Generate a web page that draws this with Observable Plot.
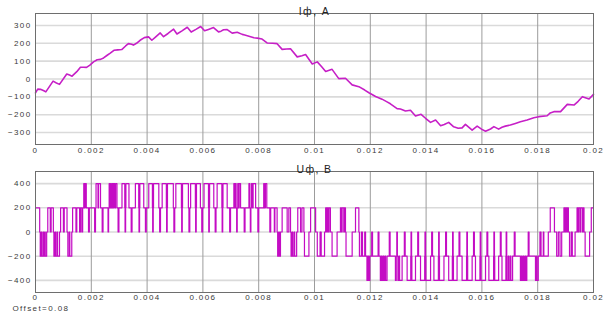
<!DOCTYPE html>
<html>
<head>
<meta charset="utf-8">
<script src="https://cdn.jsdelivr.net/npm/d3@7"></script>
<script src="https://cdn.jsdelivr.net/npm/@observablehq/plot@0.6"></script>
<style>
  html, body { margin: 0; padding: 0; background: #fff; }
  #scope { width: 616px; height: 333px; position: relative; }
  #scope svg { display: block; }
</style>
</head>
<body>
<div id="scope"></div>
<script>
// Time axis (s) and value axis ticks
const xTicks = [0, 0.002, 0.004, 0.006, 0.008, 0.01, 0.012, 0.014, 0.016, 0.018, 0.02];
const iTicks = [-300, -200, -100, 0, 100, 200, 300];
const uTicks = [-400, -200, 0, 200, 400];

// Phase current: [time, ms ; current, A]
const iPoints = [
  [0.00, -78], [0.08, -57], [0.18, -58], [0.30, -66], [0.37, -72], [0.63, -12],
  [0.75, -22], [0.86, -30], [1.12, 28], [1.22, 22], [1.31, 16], [1.48, 41],
  [1.61, 66], [1.72, 66], [1.83, 65], [1.95, 78], [2.08, 96], [2.21, 108],
  [2.33, 110], [2.44, 118], [2.57, 133], [2.68, 145], [2.81, 161], [2.95, 163],
  [3.09, 165], [3.23, 185], [3.33, 198], [3.45, 195], [3.51, 190], [3.62, 200],
  [3.75, 217], [3.90, 232], [4.05, 236], [4.17, 217], [4.30, 235], [4.47, 258],
  [4.59, 237], [4.75, 255], [4.95, 279], [5.07, 252], [5.25, 270], [5.44, 290],
  [5.58, 263], [5.75, 278], [5.92, 294], [6.06, 270], [6.20, 278], [6.38, 288],
  [6.56, 264], [6.65, 268], [6.74, 276], [6.87, 277], [7.05, 257], [7.23, 262],
  [7.41, 250], [7.50, 247], [7.65, 240], [7.83, 231], [7.95, 229], [8.12, 224],
  [8.30, 202], [8.50, 200], [8.66, 198], [8.84, 166], [9.00, 168], [9.14, 169],
  [9.38, 124], [9.55, 130], [9.68, 137], [9.92, 84], [10.10, 96], [10.25, 70],
  [10.40, 42], [10.63, 54], [10.87, 2], [11.11, 4], [11.35, -33], [11.59, -43],
  [11.80, -62], [11.95, -77], [12.19, -98], [12.42, -113], [12.60, -128], [12.72, -139],
  [12.96, -166], [13.08, -168], [13.26, -179], [13.44, -175], [13.62, -207], [13.82, -198],
  [13.98, -220], [14.16, -243], [14.34, -230], [14.52, -262], [14.65, -255], [14.81, -243],
  [14.99, -268], [15.15, -276], [15.29, -274], [15.41, -254], [15.65, -287], [15.83, -264],
  [16.00, -282], [16.13, -293], [16.31, -280], [16.43, -267], [16.60, -281], [16.72, -270],
  [16.84, -264], [17.02, -258], [17.20, -249], [17.38, -240], [17.62, -230], [17.86, -217],
  [18.04, -211], [18.34, -206], [18.45, -190], [18.58, -183], [18.82, -183], [19.06, -142],
  [19.30, -146], [19.45, -125], [19.60, -99], [19.84, -112], [20.00, -86]
];

// Phase voltage switching instants: [time, ms ; level after the switch, V]
const uSwitching = [
  [0.00, 200], [0.15, 0], [0.17, -200], [0.20, 0], [0.22, -200], [0.27, 0], [0.29, -200],
  [0.33, 0], [0.35, -200], [0.40, 0], [0.44, 200], [0.53, 0], [0.56, 200], [0.64, 0],
  [0.66, -200], [0.70, 0], [0.72, -200], [0.77, 0], [0.79, -200], [0.86, 0], [0.90, 200],
  [1.00, 0], [1.03, 200], [1.13, 0], [1.16, -200], [1.21, 0], [1.23, -200], [1.30, 0],
  [1.33, 200], [1.45, 0], [1.48, 200], [1.58, 0], [1.61, 200],
  [1.66, 0], [1.69, 200], [1.73, 400], [1.76, 200], [1.78, 400], [1.82, 200], [1.90, 0],
  [1.93, 200], [2.12, 0], [2.15, 200], [2.17, 400], [2.24, 200], [2.26, 400], [2.33, 200],
  [2.39, 0], [2.42, 200], [2.60, 0], [2.62, 200], [2.64, 400], [2.67, 200], [2.69, 400],
  [2.72, 200], [2.75, 400], [2.78, 200], [2.80, 400], [2.84, 200], [2.87, 400], [2.92, 200],
  [2.96, 0], [2.99, 200], [3.10, 400], [3.20, 200], [3.21, 0], [3.23, 200], [3.24, 400],
  [3.35, 200], [3.43, 0], [3.46, 200], [3.58, 400], [3.70, 200], [3.71, 0], [3.73, 200],
  [3.74, 400], [3.88, 200], [3.94, 0], [3.97, 200], [4.06, 400], [4.19, 200], [4.20, 0],
  [4.22, 200], [4.23, 400], [4.42, 200], [4.45, 0], [4.48, 200], [4.54, 400], [4.69, 200],
  [4.70, 0], [4.72, 200], [4.73, 400], [4.94, 200], [4.96, 0], [4.99, 200], [5.03, 400],
  [5.23, 200], [5.24, 0], [5.26, 200], [5.27, 400], [5.48, 200], [5.50, 0], [5.53, 200],
  [5.56, 400], [5.73, 200], [5.74, 0], [5.76, 200], [5.77, 400], [5.91, 200], [5.96, 0],
  [5.99, 200], [6.04, 400], [6.20, 200], [6.21, 0], [6.23, 200], [6.24, 400], [6.39, 200],
  [6.44, 0], [6.47, 200], [6.51, 400], [6.68, 200], [6.69, 0], [6.71, 200], [6.72, 400],
  [6.87, 200], [6.96, 0], [6.99, 200], [7.11, 400], [7.14, 200], [7.16, 400], [7.19, 200],
  [7.21, 0], [7.23, 200], [7.25, 400], [7.28, 200], [7.30, 400], [7.35, 200], [7.48, 0],
  [7.51, 200], [7.65, 400], [7.68, 200], [7.70, 0], [7.72, 200], [7.74, 400], [7.78, 200],
  [7.80, 400], [7.89, 200], [7.97, 0], [8.00, 200], [8.18, 400], [8.21, 200], [8.24, 400],
  [8.29, 200], [8.40, 0], [8.43, 200], [8.56, 0], [8.58, 200], [8.66, 0], [8.68, -200],
  [8.72, 0], [8.74, -200], [8.78, 0], [8.84, 200], [9.02, 0], [9.08, 200], [9.14, 0],
  [9.16, -200], [9.20, 0], [9.22, -200], [9.27, 0], [9.29, -200], [9.36, 0], [9.40, 200],
  [9.50, 0], [9.55, 200], [9.62, 0], [9.64, -200], [9.80, 0], [9.86, 200], [10.04, 0],
  [10.10, -200], [10.20, 0], [10.24, -200], [10.36, 0], [10.40, 200], [10.44, 0], [10.46, 200],
  [10.50, 0], [10.52, 200], [10.57, 0], [10.63, -200], [10.81, 0], [10.93, 200], [10.97, 0],
  [10.99, 200], [11.05, 0], [11.07, 200], [11.11, 0], [11.13, -200], [11.35, 0], [11.47, 200],
  [11.59, 0], [11.61, -200], [11.68, 0], [11.72, -200],
  [11.80, 0], [11.83, -200], [11.88, -400], [11.91, -200], [11.94, -400], [11.98, -200],
  [12.05, 0], [12.08, -200], [12.28, 0], [12.31, -200], [12.36, -400], [12.40, -200],
  [12.42, -400], [12.46, -200], [12.49, -400], [12.53, -200], [12.55, -400], [12.60, -200],
  [12.68, 0], [12.71, -200], [12.90, -400], [12.93, -200], [12.95, 0], [12.97, -200],
  [12.99, -400], [13.03, -200], [13.05, -400], [13.14, -200], [13.22, 0], [13.25, -200],
  [13.32, -400], [13.45, -200], [13.46, 0], [13.48, -200], [13.49, -400], [13.62, -200],
  [13.70, 0], [13.73, -200], [13.80, -400], [13.95, -200], [13.96, 0], [13.98, -200],
  [13.99, -400], [14.16, -200], [14.20, 0], [14.23, -200], [14.28, -400], [14.44, -200],
  [14.45, 0], [14.47, -200], [14.48, -400], [14.64, -200], [14.70, 0], [14.73, -200],
  [14.81, -400], [14.94, -200], [14.95, 0], [14.97, -200], [14.98, -400], [15.11, -200],
  [15.18, 0], [15.21, -200], [15.29, -400], [15.45, -200], [15.46, 0], [15.48, -200],
  [15.49, -400], [15.65, -200], [15.70, 0], [15.73, -200], [15.77, -400], [15.93, -200],
  [15.94, 0], [15.96, -200], [15.97, -400], [16.13, -200], [16.18, 0], [16.21, -200],
  [16.25, -400], [16.42, -200], [16.43, 0], [16.45, -200], [16.46, -400], [16.60, -200],
  [16.66, 0], [16.69, -200], [16.72, -400], [16.86, -200], [16.87, 0], [16.89, -200],
  [16.90, -400], [16.95, -200], [16.97, -400], [17.02, -200], [17.04, -400], [17.10, -200],
  [17.16, 0], [17.19, -200], [17.38, -400], [17.42, -200], [17.44, -400], [17.48, -200],
  [17.51, -400], [17.55, -200], [17.57, -400], [17.61, -200], [17.66, 0], [17.69, -200],
  [17.92, -400], [17.95, -200], [17.97, -400], [18.02, -200],
  [18.08, 0], [18.12, -200], [18.20, 0], [18.22, -200], [18.38, 0], [18.45, 200],
  [18.60, 0], [18.68, -200], [18.74, 0], [18.80, -200], [18.86, 0], [18.94, 200],
  [18.98, 0], [19.00, 200], [19.04, 0], [19.06, 200], [19.10, 0], [19.14, -200],
  [19.20, 0], [19.24, -200], [19.34, 0], [19.41, 200], [19.45, 0], [19.47, 200],
  [19.52, 0], [19.54, 200], [19.60, 0], [19.62, 200], [19.66, 0], [19.70, -200],
  [19.86, 0], [19.92, 200], [20.00, 200]
];

const currentTitle = "Iф, A";
const voltageTitle = "Uф, B";
const offsetNote = "Offset=0.08";

const iData = iPoints.map(([t, v]) => ({t: t / 1000, v}));
const uData = uSwitching.map(([t, v]) => ({t: t / 1000, v}));

const fmtX = d3.format("~g");
const svgStyle = {
  fontFamily: "'Liberation Sans', Arial, sans-serif",
  fontSize: "8px",
  letterSpacing: "1.4px",
  color: "#3a3a3a",
  background: "#fff",
  overflow: "visible"
};

function scopePanel({data, curve, yDomain, yTicks, title, height, marginTop, marginBottom, strokeWidth, color, xPad = 3, extra = []}) {
  return Plot.plot({
    width: 616,
    height,
    marginLeft: 35,
    marginRight: 23,
    marginTop,
    marginBottom,
    style: svgStyle,
    x: {domain: [0, 0.02], ticks: xTicks, tickFormat: fmtX},
    y: {domain: yDomain, ticks: yTicks},
    marks: [
      Plot.gridY(yTicks, {stroke: "#dadada", strokeOpacity: 1, strokeWidth: 1.6}),
      Plot.gridX(xTicks, {stroke: "#9c9c9c", strokeOpacity: 1, strokeWidth: 1}),
      Plot.axisX(xTicks, {tickSize: 0, tickPadding: xPad, tickFormat: fmtX, label: null, fill: "#3a3a3a"}),
      Plot.axisY(yTicks, {tickSize: 0, tickPadding: 4, label: null, fill: "#3a3a3a"}),
      Plot.line(data, {x: "t", y: "v", curve, stroke: color, strokeWidth}),
      Plot.frame({stroke: "#6e6e6e", strokeWidth: 1}),
      Plot.text([title], {frameAnchor: "top", dy: -6, fontSize: 10.5, fill: "#222"}),
      ...extra
    ]
  });
}

const currentPanel = scopePanel({
  data: iData, curve: "linear", yDomain: [-367, 367], yTicks: iTicks,
  title: currentTitle, height: 157, marginTop: 13, marginBottom: 13,
  strokeWidth: 1.6, color: "#c61fc6"
});

const voltagePanel = scopePanel({
  data: uData, curve: "step-after", yDomain: [-500, 500], yTicks: uTicks,
  title: voltageTitle, height: 176, marginTop: 14, marginBottom: 41,
  strokeWidth: 1.2, color: "#c40cc4", xPad: 2,
  extra: [
    Plot.text([offsetNote], {frameAnchor: "bottom-left", textAnchor: "start", dx: -23, dy: 18, fill: "#3a3a3a"})
  ]
});

document.getElementById("scope").append(currentPanel, voltagePanel);
</script>
</body>
</html>
